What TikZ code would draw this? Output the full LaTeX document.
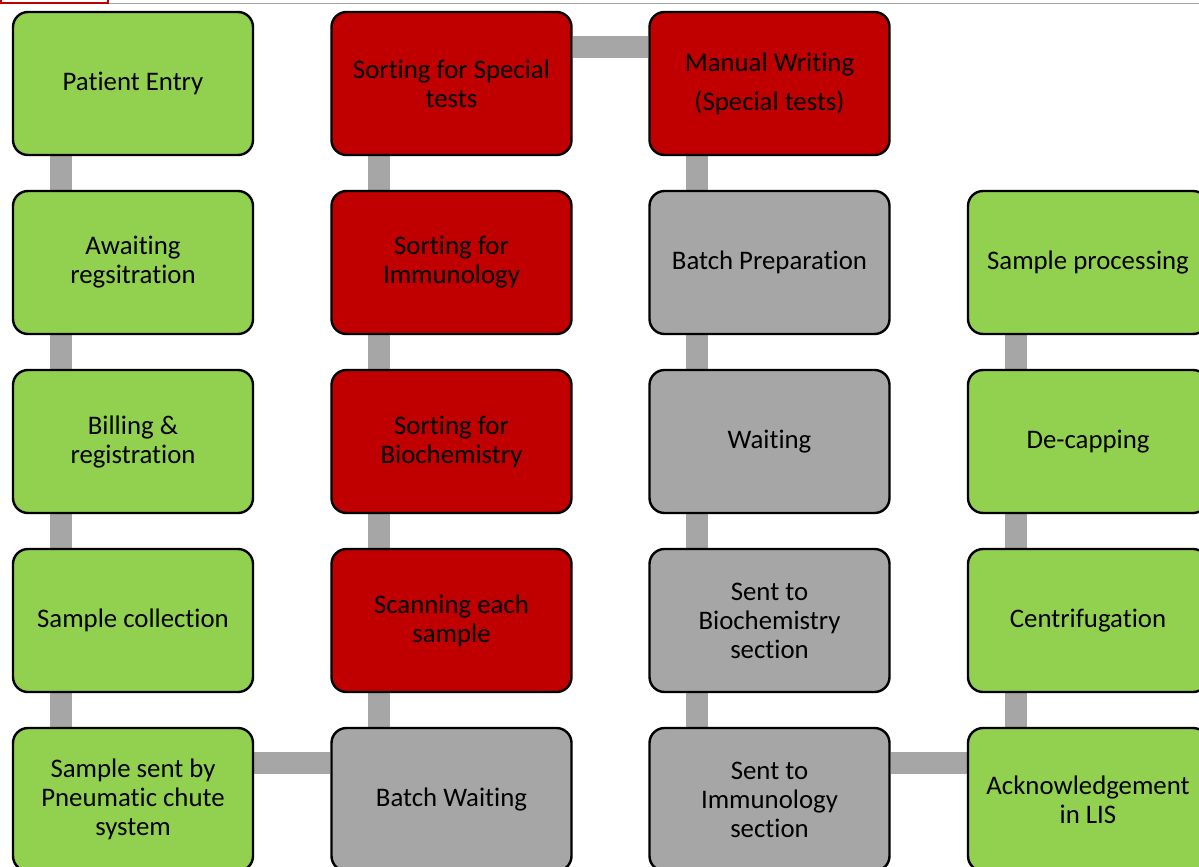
\documentclass[tikz,border=0pt]{standalone}
\usepackage{fontspec}
\setmainfont{Carlito}[Ligatures={NoCommon}]
\usetikzlibrary{backgrounds}
\definecolor{labgreen}{HTML}{92D050}
\definecolor{labred}{HTML}{C00000}
\definecolor{labgray}{HTML}{A6A6A6}
\tikzset{
  box/.style={draw=black, line width=1.2pt, rounded corners=7.5pt,
    minimum width=120pt, minimum height=71.5pt, inner sep=2pt,
    align=center, font=\fontsize{13.4}{14.5}\selectfont},
  gbox/.style={box, fill=labgreen},
  rbox/.style={box, fill=labred},
  ybox/.style={box, fill=labgray},
  bar/.style={labgray, line width=11pt}
}
% bar positions, relative to the box corners
\newcommand{\vb}[1]{([xshift=24.5pt]#1)}
\newcommand{\hb}[1]{([yshift=-18pt]#1)}

\begin{document}
\begin{tikzpicture}[x=0.5pt,y=-0.5pt]
  \useasboundingbox (0,0) rectangle (1199,867);
  \clip (0,0) rectangle (1199,867);
  % window edge
  \draw[gray!70, line width=0.6pt] (35,3.5) -- (1199,3.5);
  \draw[labred, line width=0.8pt] (1,-10) rectangle (108,3);

  % reception
  \node[gbox] (entry)   at (133,83.5)  {Patient Entry};
  \node[gbox] (await)   at (133,262.5) {Awaiting\\regsitration};
  \node[gbox] (billing) at (133,441.5) {Billing \&\\registration};
  \node[gbox] (collect) at (133,620.5) {Sample collection};
  \node[gbox] (chute)   at (133,799.5) {Sample sent by\\Pneumatic chute\\system};

  % sorting
  \node[rbox] (special) at (451.5,83.5)  {Sorting for Special\\tests};
  \node[rbox] (immuno)  at (451.5,262.5) {Sorting for\\Immunology};
  \node[rbox] (biochem) at (451.5,441.5) {Sorting for\\Biochemistry};
  \node[rbox] (scan)    at (451.5,620.5) {Scanning each\\sample};
  \node[ybox] (bwait)   at (451.5,799.5) {Batch Waiting};

  % dispatch
  \node[rbox] (manual)  at (769.5,83.5)  {Manual Writing\\[5pt](Special tests)};
  \node[ybox] (batch)   at (769.5,262.5) {Batch Preparation};
  \node[ybox] (waiting) at (769.5,441.5) {Waiting};
  \node[ybox] (tobio)   at (769.5,620.5) {Sent to\\Biochemistry\\section};
  \node[ybox] (toimm)   at (769.5,799.5) {Sent to\\Immunology\\section};

  % laboratory
  \node[gbox] (process) at (1088,262.5) {Sample processing};
  \node[gbox] (decap)   at (1088,441.5) {De-capping};
  \node[gbox] (centri)  at (1088,620.5) {Centrifugation};
  \node[gbox] (ack)     at (1088,799.5) {Acknowledgement\\in LIS};

  \begin{scope}[on background layer]
    \draw[bar] \vb{entry.south west} -- \vb{await.north west};
    \draw[bar] \vb{await.south west} -- \vb{billing.north west};
    \draw[bar] \vb{billing.south west} -- \vb{collect.north west};
    \draw[bar] \vb{collect.south west} -- \vb{chute.north west};
    \draw[bar] \hb{chute.north east} -- \hb{bwait.north west};
    \draw[bar] \vb{bwait.north west} -- \vb{scan.south west};
    \draw[bar] \vb{scan.north west} -- \vb{biochem.south west};
    \draw[bar] \vb{biochem.north west} -- \vb{immuno.south west};
    \draw[bar] \vb{immuno.north west} -- \vb{special.south west};
    \draw[bar] \hb{special.north east} -- \hb{manual.north west};
    \draw[bar] \vb{manual.south west} -- \vb{batch.north west};
    \draw[bar] \vb{batch.south west} -- \vb{waiting.north west};
    \draw[bar] \vb{waiting.south west} -- \vb{tobio.north west};
    \draw[bar] \vb{tobio.south west} -- \vb{toimm.north west};
    \draw[bar] \hb{toimm.north east} -- \hb{ack.north west};
    \draw[bar] \vb{ack.north west} -- \vb{centri.south west};
    \draw[bar] \vb{centri.north west} -- \vb{decap.south west};
    \draw[bar] \vb{decap.north west} -- \vb{process.south west};
  \end{scope}
\end{tikzpicture}
\end{document}
